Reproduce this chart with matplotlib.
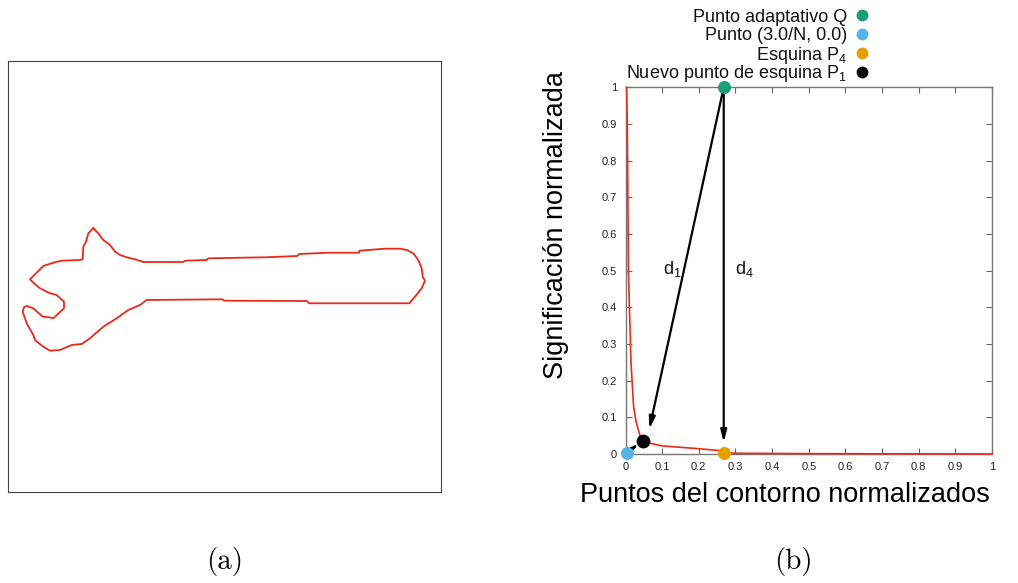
import matplotlib
matplotlib.use("Agg")
import matplotlib.pyplot as plt
from matplotlib.lines import Line2D

plt.rcParams["font.family"] = ["Liberation Sans", "DejaVu Sans"]
plt.rcParams["mathtext.fontset"] = "custom"
plt.rcParams["mathtext.rm"] = "Liberation Sans"

# contorno de la llave (coordenadas de imagen, y hacia abajo)
contour_x = [93.3, 88.3, 86.0, 83.3, 82.7, 80.0, 61.7, 53.3, 43.3, 30.0, 33.3, 40.0,
             50.0, 56.7, 64.0, 64.0, 53.3, 49.3, 42.7, 33.3, 26.7, 24.0, 22.7, 26.7,
             33.3, 35.0, 43.3, 50.0, 60.0, 71.7, 81.7, 90.0, 103.3, 116.7, 128.3,
             140.0, 146.7, 221.7, 225.0, 306.7, 309.3, 409.3, 415.0, 421.7, 425.0,
             422.7, 421.7, 418.3, 413.3, 406.7, 400.0, 385.0, 359.3, 359.3, 328.3,
             299.3, 297.3, 265.0, 208.3, 206.7, 185.0, 183.3, 143.3, 135.0, 126.7,
             120.0, 115.0, 110.0, 103.3, 98.3, 93.3]
contour_y = [228.3, 233.3, 241.7, 246.7, 259.3, 260.0, 260.7, 262.7, 266.0, 279.3,
             282.7, 288.3, 293.3, 295.0, 301.7, 308.3, 318.3, 317.3, 316.7, 308.3,
             306.0, 307.3, 311.7, 323.3, 335.0, 340.0, 346.7, 350.7, 350.0, 345.0,
             344.0, 338.3, 326.7, 318.3, 310.0, 305.0, 300.0, 299.3, 300.7, 301.0,
             303.3, 303.3, 296.7, 288.3, 280.7, 276.7, 268.3, 260.0, 253.3, 250.0,
             248.7, 248.7, 250.7, 252.7, 252.7, 254.0, 256.0, 257.3, 258.3, 260.0,
             260.7, 262.0, 262.0, 259.3, 257.3, 255.0, 251.7, 245.0, 240.0, 233.3,
             228.3]

# curva de significacion normalizada
sig_x = [0.003, 0.005, 0.008, 0.011, 0.015, 0.022, 0.029, 0.040, 0.047, 0.056,
         0.100, 0.193, 0.260, 0.268, 0.300, 0.500, 1.000]
sig_y = [1.000, 0.900, 0.500, 0.390, 0.250, 0.130, 0.087, 0.049, 0.036, 0.032,
         0.022, 0.015, 0.009, 0.004, 0.002, 0.001, 0.000]

q_pt = (0.268, 1.0)
start_pt = (0.003, 0.003)
p4_pt = (0.268, 0.004)
p1_pt = (0.047, 0.036)
d1_end = (0.065, 0.068)
d4_end = (0.268, 0.032)

ticks = [0, 0.1, 0.2, 0.3, 0.4, 0.5, 0.6, 0.7, 0.8, 0.9, 1]
tick_labels = ["0", "0.1", "0.2", "0.3", "0.4", "0.5", "0.6", "0.7", "0.8", "0.9", "1"]

legend_labels = ["Punto adaptativo Q", "Punto (3.0/N, 0.0)",
                 r"Esquina P$_\mathrm{4}$", r"Nuevo punto de esquina P$_\mathrm{1}$"]
legend_colors = ["#1a9e77", "#56b4e9", "#e6a000", "black"]

W, H = 1018, 583
fig = plt.figure(figsize=(W / 100, H / 100), dpi=100)

# (a) contorno
axa = fig.add_axes([8 / W, 1 - 492 / H, 433 / W, 431 / H])
axa.plot(contour_x, contour_y, color="#e8291c", lw=1.3)
axa.set_xlim(8, 441)
axa.set_ylim(492, 61)
axa.set_xticks([])
axa.set_yticks([])
for s in axa.spines.values():
    s.set_color("#444444")
    s.set_linewidth(0.8)

# (b) significacion
ax = fig.add_axes([625.5 / W, 1 - 454 / H, 366.5 / W, 366.7 / H])
ax.plot(sig_x, sig_y, color="#ee2a18", lw=1.2, zorder=3, clip_on=False)

arrow = dict(arrowstyle="-|>,head_length=0.7,head_width=0.18", color="black",
             lw=1.6, shrinkA=0, shrinkB=0)
ax.annotate("", xy=d1_end, xytext=q_pt, arrowprops=arrow, zorder=4)
ax.annotate("", xy=d4_end, xytext=q_pt, arrowprops=arrow, zorder=4)
ax.annotate("", xy=(0.036, 0.028), xytext=start_pt, arrowprops=arrow, zorder=4)

for pt, c, sz in zip([q_pt, start_pt, p4_pt, p1_pt], legend_colors, [70, 70, 70, 80]):
    ax.scatter(*pt, s=sz, color=c, zorder=5, clip_on=False)

ax.text(0.102, 0.49, r"d$_\mathrm{1}$", fontsize=13, color="#111111")
ax.text(0.3, 0.49, r"d$_\mathrm{4}$", fontsize=13, color="#111111")

ax.set_xlim(0, 1)
ax.set_ylim(0, 1)
ax.set_xticks(ticks)
ax.set_xticklabels(tick_labels)
ax.set_yticks(ticks)
ax.set_yticklabels(tick_labels)
ax.tick_params(direction="in", length=4, width=0.8, color="#666666",
               labelsize=8, labelcolor="#222222", top=True, right=True, pad=6)
for s in ax.spines.values():
    s.set_color("#777777")
    s.set_linewidth(1.0)

# leyenda: texto alineado a la derecha y marcador a continuacion
for i, (lab, c) in enumerate(zip(legend_labels, legend_colors)):
    yc = 15 + 19 * i
    fig.text(847 / W, 1 - (yc + 6.5) / H, lab, ha="right", va="baseline",
             fontsize=13, color="#111111")
    fig.add_artist(Line2D([862 / W], [1 - yc / H], marker="o", ms=7.5, color=c,
                          transform=fig.transFigure))

fig.text(556 / W, 1 - 225 / H, "Significación normalizada", rotation=90,
         ha="center", va="center", fontsize=19.5)
fig.text(785 / W, 1 - 495 / H, "Puntos del contorno normalizados",
         ha="center", va="center", fontsize=19.5)

fig.text(225 / W, 1 - 562 / H, "(a)", family="cmr10", fontsize=21, ha="center", va="center")
fig.text(793 / W, 1 - 562 / H, "(b)", family="cmr10", fontsize=21, ha="center", va="center")

fig.savefig("out.png", dpi=100)
